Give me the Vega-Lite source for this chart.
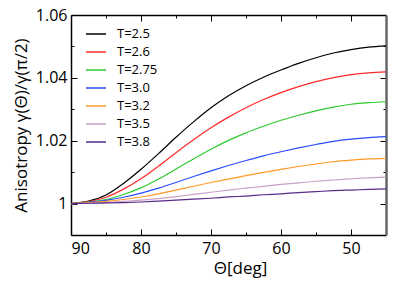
{
  "$schema": "https://vega.github.io/schema/vega-lite/v6.json",
  "width": 315,
  "height": 220,
  "autosize": "none",
  "padding": {"left": 71, "top": 15, "right": 14, "bottom": 51},
  "background": "white",
  "config": {
    "view": {"stroke": null},
    "font": "Open Sans",
    "axis": {"labelFont": "Open Sans", "titleFont": "Open Sans", "labelColor": "black", "titleColor": "black", "grid": false, "domainColor": "black", "domainWidth": 1.5, "tickColor": "black", "tickWidth": 1, "titleFontWeight": "normal", "labelFontSize": 16, "titleFontSize": 17}
  },
  "data": {"values": [
    {"T":"T=2.5","theta":90,"g":1.0},{"T":"T=2.5","theta":87.5,"g":1.0008},{"T":"T=2.5","theta":85,"g":1.0027},{"T":"T=2.5","theta":82.5,"g":1.0064},{"T":"T=2.5","theta":80,"g":1.0109},{"T":"T=2.5","theta":77.5,"g":1.0159},{"T":"T=2.5","theta":75,"g":1.0211},{"T":"T=2.5","theta":72.5,"g":1.026},{"T":"T=2.5","theta":70,"g":1.0305},{"T":"T=2.5","theta":67.5,"g":1.0343},{"T":"T=2.5","theta":65,"g":1.0375},{"T":"T=2.5","theta":62.5,"g":1.0402},{"T":"T=2.5","theta":60,"g":1.0425},{"T":"T=2.5","theta":57.5,"g":1.0446},{"T":"T=2.5","theta":55,"g":1.0464},{"T":"T=2.5","theta":52.5,"g":1.0479},{"T":"T=2.5","theta":50,"g":1.049},{"T":"T=2.5","theta":47.5,"g":1.0498},{"T":"T=2.5","theta":45,"g":1.0502},
    {"T":"T=2.6","theta":90,"g":1.0},{"T":"T=2.6","theta":87.5,"g":1.0006},{"T":"T=2.6","theta":85,"g":1.002},{"T":"T=2.6","theta":82.5,"g":1.0046},{"T":"T=2.6","theta":80,"g":1.0079},{"T":"T=2.6","theta":77.5,"g":1.0119},{"T":"T=2.6","theta":75,"g":1.0162},{"T":"T=2.6","theta":72.5,"g":1.0203},{"T":"T=2.6","theta":70,"g":1.0241},{"T":"T=2.6","theta":67.5,"g":1.0275},{"T":"T=2.6","theta":65,"g":1.0305},{"T":"T=2.6","theta":62.5,"g":1.0331},{"T":"T=2.6","theta":60,"g":1.0353},{"T":"T=2.6","theta":57.5,"g":1.0372},{"T":"T=2.6","theta":55,"g":1.0388},{"T":"T=2.6","theta":52.5,"g":1.0401},{"T":"T=2.6","theta":50,"g":1.041},{"T":"T=2.6","theta":47.5,"g":1.0416},{"T":"T=2.6","theta":45,"g":1.0419},
    {"T":"T=2.75","theta":90,"g":1.0},{"T":"T=2.75","theta":87.5,"g":1.0005},{"T":"T=2.75","theta":85,"g":1.0013},{"T":"T=2.75","theta":82.5,"g":1.0029},{"T":"T=2.75","theta":80,"g":1.005},{"T":"T=2.75","theta":77.5,"g":1.0078},{"T":"T=2.75","theta":75,"g":1.011},{"T":"T=2.75","theta":72.5,"g":1.0142},{"T":"T=2.75","theta":70,"g":1.0173},{"T":"T=2.75","theta":67.5,"g":1.0201},{"T":"T=2.75","theta":65,"g":1.0225},{"T":"T=2.75","theta":62.5,"g":1.0246},{"T":"T=2.75","theta":60,"g":1.0265},{"T":"T=2.75","theta":57.5,"g":1.0281},{"T":"T=2.75","theta":55,"g":1.0295},{"T":"T=2.75","theta":52.5,"g":1.0307},{"T":"T=2.75","theta":50,"g":1.0316},{"T":"T=2.75","theta":47.5,"g":1.0321},{"T":"T=2.75","theta":45,"g":1.0324},
    {"T":"T=3.0","theta":90,"g":1.0},{"T":"T=3.0","theta":87.5,"g":1.0004},{"T":"T=3.0","theta":85,"g":1.001},{"T":"T=3.0","theta":82.5,"g":1.002},{"T":"T=3.0","theta":80,"g":1.0033},{"T":"T=3.0","theta":77.5,"g":1.0049},{"T":"T=3.0","theta":75,"g":1.0067},{"T":"T=3.0","theta":72.5,"g":1.0086},{"T":"T=3.0","theta":70,"g":1.0104},{"T":"T=3.0","theta":67.5,"g":1.0121},{"T":"T=3.0","theta":65,"g":1.0137},{"T":"T=3.0","theta":62.5,"g":1.0152},{"T":"T=3.0","theta":60,"g":1.0165},{"T":"T=3.0","theta":57.5,"g":1.0177},{"T":"T=3.0","theta":55,"g":1.0188},{"T":"T=3.0","theta":52.5,"g":1.0198},{"T":"T=3.0","theta":50,"g":1.0205},{"T":"T=3.0","theta":47.5,"g":1.021},{"T":"T=3.0","theta":45,"g":1.0213},
    {"T":"T=3.2","theta":90,"g":1.0},{"T":"T=3.2","theta":87.5,"g":1.0003},{"T":"T=3.2","theta":85,"g":1.0007},{"T":"T=3.2","theta":82.5,"g":1.0013},{"T":"T=3.2","theta":80,"g":1.0021},{"T":"T=3.2","theta":77.5,"g":1.0031},{"T":"T=3.2","theta":75,"g":1.0043},{"T":"T=3.2","theta":72.5,"g":1.0055},{"T":"T=3.2","theta":70,"g":1.0067},{"T":"T=3.2","theta":67.5,"g":1.0078},{"T":"T=3.2","theta":65,"g":1.0089},{"T":"T=3.2","theta":62.5,"g":1.0099},{"T":"T=3.2","theta":60,"g":1.0109},{"T":"T=3.2","theta":57.5,"g":1.0118},{"T":"T=3.2","theta":55,"g":1.0126},{"T":"T=3.2","theta":52.5,"g":1.0133},{"T":"T=3.2","theta":50,"g":1.0138},{"T":"T=3.2","theta":47.5,"g":1.0142},{"T":"T=3.2","theta":45,"g":1.0144},
    {"T":"T=3.5","theta":90,"g":1.0},{"T":"T=3.5","theta":87.5,"g":1.0001},{"T":"T=3.5","theta":85,"g":1.0003},{"T":"T=3.5","theta":82.5,"g":1.0007},{"T":"T=3.5","theta":80,"g":1.0011},{"T":"T=3.5","theta":77.5,"g":1.0016},{"T":"T=3.5","theta":75,"g":1.0022},{"T":"T=3.5","theta":72.5,"g":1.0029},{"T":"T=3.5","theta":70,"g":1.0036},{"T":"T=3.5","theta":67.5,"g":1.0043},{"T":"T=3.5","theta":65,"g":1.0049},{"T":"T=3.5","theta":62.5,"g":1.0055},{"T":"T=3.5","theta":60,"g":1.0061},{"T":"T=3.5","theta":57.5,"g":1.0066},{"T":"T=3.5","theta":55,"g":1.0071},{"T":"T=3.5","theta":52.5,"g":1.0075},{"T":"T=3.5","theta":50,"g":1.0079},{"T":"T=3.5","theta":47.5,"g":1.0082},{"T":"T=3.5","theta":45,"g":1.0084},
    {"T":"T=3.8","theta":90,"g":1.0},{"T":"T=3.8","theta":87.5,"g":1.0001},{"T":"T=3.8","theta":85,"g":1.0002},{"T":"T=3.8","theta":82.5,"g":1.0003},{"T":"T=3.8","theta":80,"g":1.0005},{"T":"T=3.8","theta":77.5,"g":1.0008},{"T":"T=3.8","theta":75,"g":1.0011},{"T":"T=3.8","theta":72.5,"g":1.0014},{"T":"T=3.8","theta":70,"g":1.0017},{"T":"T=3.8","theta":67.5,"g":1.0021},{"T":"T=3.8","theta":65,"g":1.0024},{"T":"T=3.8","theta":62.5,"g":1.0028},{"T":"T=3.8","theta":60,"g":1.0031},{"T":"T=3.8","theta":57.5,"g":1.0035},{"T":"T=3.8","theta":55,"g":1.0038},{"T":"T=3.8","theta":52.5,"g":1.0041},{"T":"T=3.8","theta":50,"g":1.0043},{"T":"T=3.8","theta":47.5,"g":1.0045},{"T":"T=3.8","theta":45,"g":1.0047}
  ]},
  "layer": [
    {
      "mark": {"type": "line", "strokeWidth": 1.2, "interpolate": "monotone"},
      "encoding": {
        "x": {"field": "theta", "type": "quantitative", "scale": {"domain": [90, 45], "nice": false, "zero": false},
          "axis": {"orient": "bottom", "title": "Θ[deg]", "values": [90,85,80,75,70,65,60,55,50], "labelExpr": "datum.value % 10 === 0 ? datum.label : ''",
            "tickSize": {"condition": {"test": "datum.value % 10 === 0", "value": -6}, "value": -3}, "labelPadding": 11, "titlePadding": 4, "titleX": 169}},
        "y": {"field": "g", "type": "quantitative", "scale": {"domain": [0.99, 1.06], "nice": false, "zero": false},
          "axis": {"orient": "left", "title": "Anisotropy γ(Θ)/γ(π/2)", "values": [1.0,1.01,1.02,1.03,1.04,1.05,1.06], "format": ".2~f",
            "labelExpr": "round(datum.value*100) % 2 === 0 ? datum.label : ''",
            "tickSize": {"condition": {"test": "round(datum.value*100) % 2 === 0", "value": -6}, "value": -3}, "labelPadding": 10, "titlePadding": 5}},
        "color": {"field": "T", "type": "nominal",
          "scale": {"domain": ["T=2.5","T=2.6","T=2.75","T=3.0","T=3.2","T=3.5","T=3.8"], "range": ["#000000","#ff2a2a","#2ecc2e","#2a4dff","#ff9a2a","#c9a0c6","#5a2a8a"]},
          "legend": {"orient": "none", "legendX": 14, "legendY": 8, "title": null, "symbolType": "stroke", "symbolSize": 400, "symbolStrokeWidth": 1.5, "labelFontSize": 13, "labelFont": "Open Sans", "labelColor": "black", "rowPadding": -4, "labelOffset": 10, "padding": 0}}
      }
    },
    {
      "mark": {"type": "line", "strokeOpacity": 0},
      "encoding": {
        "x": {"field": "theta", "type": "quantitative",
          "axis": {"orient": "top", "title": null, "values": [90,85,80,75,70,65,60,55,50], "labels": false,
            "tickSize": {"condition": {"test": "datum.value % 10 === 0", "value": -6}, "value": -3}}},
        "y": {"field": "g", "type": "quantitative",
          "axis": {"orient": "right", "title": null, "values": [1.0,1.01,1.02,1.03,1.04,1.05,1.06], "labels": false, "domainColor": "#666", "domainWidth": 2.5,
            "tickSize": {"condition": {"test": "round(datum.value*100) % 2 === 0", "value": -6}, "value": -3}}},
        "detail": {"field": "T"}
      }
    }
  ],
  "resolve": {"axis": {"x": "independent", "y": "independent"}}
}
